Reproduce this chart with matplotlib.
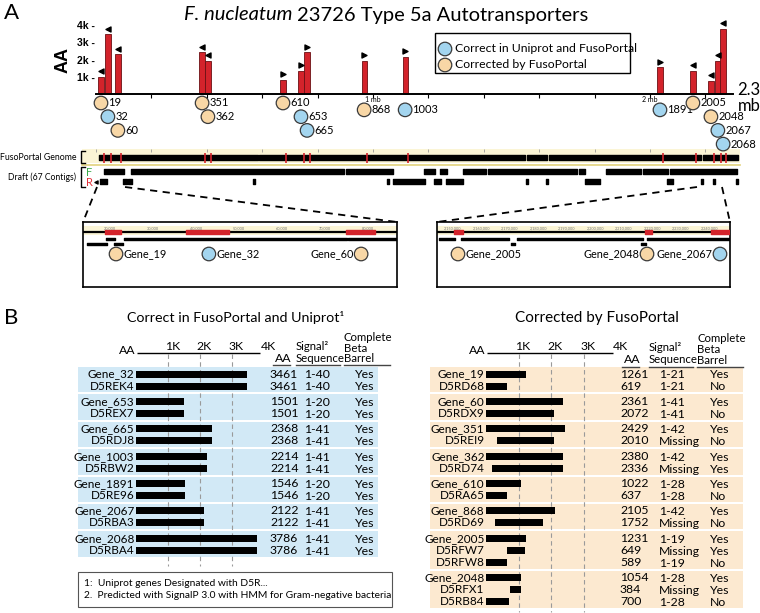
import matplotlib
matplotlib.use('Agg')
import matplotlib.pyplot as plt
from matplotlib.patches import Rectangle
import numpy as np

# ---------------- data ----------------
gene_ids = [19, 32, 60, 351, 362, 610, 653, 665, 868, 1003, 1891, 2005, 2048, 2067, 2068]
gene_pos_mb = [0.018, 0.043, 0.079, 0.383, 0.404, 0.675, 0.740, 0.762, 0.968, 1.116,
               2.036, 2.155, 2.220, 2.245, 2.264]
gene_bar_aa = [1000, 3460, 2310, 2430, 1920, 830, 1370, 2430, 1920, 2170, 1560, 1370, 770, 1940, 3780]
gene_strand = ['-', '-', '-', '-', '-', '+', '+', '+', '+', '+', '+', '-', '-', '-', '-']
gene_status = ['fixed', 'ok', 'fixed', 'fixed', 'fixed', 'fixed', 'ok', 'ok', 'fixed', 'ok',
               'ok', 'fixed', 'fixed', 'ok', 'ok']
gene_label_row = [0, 1, 2, 0, 1, 0, 1, 2, 0.5, 0.5, 0.5, 0, 1, 2, 3]

genome_segments = [(0.011, 0.584), (0.590, 1.549), (1.556, 1.628), (1.635, 2.184), (2.191, 2.318)]
draft_F = [(0.029, 0.101), (0.126, 0.895), (0.903, 1.072), (1.184, 1.224), (1.242, 1.267),
           (1.325, 1.408), (1.415, 1.736), (1.744, 1.765), (1.841, 1.968), (1.975, 2.065),
           (2.072, 2.314)]
draft_R = [(0.014, 0.040), (0.097, 0.112), (0.116, 0.130), (0.567, 0.573), (1.051, 1.057),
           (1.072, 1.188), (1.220, 1.245), (1.264, 1.325), (1.552, 1.558), (1.625, 1.631),
           (1.765, 1.819), (2.061, 2.083), (2.184, 2.190), (2.227, 2.233), (2.311, 2.317)]

# insets (kb)
insetL_ticks = [20, 30, 40, 50, 60, 70, 80]
insetL_genes_red = [(18.84, 22.56), (37.67, 47.67), (74.88, 81.63)]
insetL_contig1 = [(19.07, 21.16), (23.26, 75.12), (75.35, 86.74)]
insetL_contig2 = [(14.65, 19.30), (20.93, 23.02)]
insetL_circles = [('Gene_19', 21.4, 'fixed', 'right'), ('Gene_32', 43.0, 'ok', 'right'),
                  ('Gene_60', 78.4, 'fixed', 'left')]
insetR_ticks = [2150, 2160, 2170, 2180, 2190, 2200, 2210, 2220, 2230, 2240]
insetR_genes_red = [(2150.35, 2153.51), (2217.37, 2219.82), (2240.53, 2247.5)]
insetR_contig1 = [(2145.09, 2150.70), (2152.81, 2169.65), (2172.46, 2216.67), (2218.07, 2247.19)]
insetR_contig2 = [(2170.35, 2171.75), (2215.96, 2217.72)]
insetR_circles = [('Gene_2005', 2151.75, 'fixed', 'right'), ('Gene_2048', 2218.07, 'fixed', 'left'),
                  ('Gene_2067', 2243.68, 'ok', 'left')]

left_names = ["Gene_32", "D5REK4", "Gene_653", "D5REX7", "Gene_665", "D5RDJ8", "Gene_1003", "D5RBW2",
              "Gene_1891", "D5RE96", "Gene_2067", "D5RBA3", "Gene_2068", "D5RBA4"]
left_aa = [3461, 3461, 1501, 1501, 2368, 2368, 2214, 2214, 1546, 1546, 2122, 2122, 3786, 3786]
left_signal = ["1-40", "1-40", "1-20", "1-20", "1-41", "1-41", "1-41", "1-41", "1-20", "1-20",
               "1-41", "1-41", "1-41", "1-41"]
left_barrel = ["Yes"] * 14
left_groups = [2, 2, 2, 2, 2, 2, 2]
left_bar_start = [0] * 14
left_bar_end = left_aa

right_names = ["Gene_19", "D5RD68", "Gene_60", "D5RDX9", "Gene_351", "D5REI9", "Gene_362", "D5RD74",
               "Gene_610", "D5RA65", "Gene_868", "D5RD69", "Gene_2005", "D5RFW7", "D5RFW8",
               "Gene_2048", "D5RFX1", "D5RB84"]
right_aa = [1261, 619, 2361, 2072, 2429, 2010, 2380, 2336, 1022, 637, 2105, 1752, 1231, 649, 589,
            1054, 384, 700]
right_signal = ["1-21", "1-21", "1-41", "1-41", "1-42", "Missing", "1-42", "Missing", "1-28", "1-28",
                "1-42", "Missing", "1-19", "Missing", "1-19", "1-28", "Missing", "1-28"]
right_barrel = ["Yes", "No", "Yes", "No", "Yes", "No", "Yes", "Yes", "Yes", "No", "Yes", "No",
                "Yes", "Yes", "No", "Yes", "Yes", "No"]
right_groups = [2, 2, 2, 2, 2, 2, 3, 3]
right_bar_start = [0, 0, 0, 0, 0, 330, 0, 190, 0, 0, 0, 280, 0, 640, 0, 0, 740, 0]
right_bar_end = [1240, 640, 2360, 2090, 2430, 2090, 2360, 2360, 1070, 640, 2120, 1750, 1220, 1200,
                 640, 1070, 1070, 720]

axis_ticks = [1000, 2000, 3000, 4000]
axis_labels = ['1K', '2K', '3K', '4K']

# ---------------- style ----------------
W, H = 760, 613
FONT = 'Lato'
plt.rcParams['font.family'] = [FONT, 'DejaVu Sans']
BLUE = '#A3D5EF'
PEACH = '#F8D7A6'
RED = '#D3232B'
BLUEBG = '#D2E9F6'
PEACHBG = '#FCE9D0'
EDGE = '#3a3a3a'
STATUS_COL = {'ok': BLUE, 'fixed': PEACH}

fig = plt.figure(figsize=(W / 100, H / 100), dpi=100)


def fax(x0, y0, x1, y1, z=1):
    a = fig.add_axes([x0 / W, 1 - y1 / H, (x1 - x0) / W, (y1 - y0) / H])
    a.set_zorder(z)
    a.patch.set_visible(False)
    return a


ax0 = fax(0, 0, W, H, 0)
ax0.set_xlim(0, W)
ax0.set_ylim(H, 0)
ax0.axis('off')


def T(x, y, s, **kw):
    kw.setdefault('fontsize', 8.5)
    kw.setdefault('va', 'center')
    return ax0.text(x, y, s, **kw)


# ---------------- Panel A ----------------
T(4, 13, 'A', fontsize=16)
T(292, 15, 'F. nucleatum', fontsize=14.5, style='italic', ha='right')
T(297, 15, '23726 Type 5a Autotransporters', fontsize=14.5, ha='left')

X0PX, PXMB = 96, 277.0
BASE, PXK = 94.3, 17.3
axA = fax(X0PX, 20, X0PX + 2.3 * PXMB, 150, 2)
axA.set_xlim(0, 2.3)
axA.set_ylim((BASE - 150) / PXK * 1000, (BASE - 20) / PXK * 1000)
for s in ['top', 'right', 'left']:
    axA.spines[s].set_visible(False)
axA.spines['bottom'].set_position(('data', 0))
axA.spines['bottom'].set_linewidth(1.4)
axA.set_xticks(np.arange(0.2, 2.25, 0.2))
axA.tick_params(axis='x', length=3, width=0.8, labelbottom=False, direction='out')
axA.set_yticks([1000, 2000, 3000, 4000])
axA.set_yticklabels(['1k -', '2k -', '3k -', '4k -'], fontweight='bold', fontsize=7.5,
                    family='Liberation Sans')
axA.tick_params(axis='y', length=0, pad=1)

axA.bar(gene_pos_mb, gene_bar_aa, width=0.019, color=RED, edgecolor='#6b1014', linewidth=0.6, zorder=2)
for p, v, s in zip(gene_pos_mb, gene_bar_aa, gene_strand):
    axA.scatter([p], [v + 330], marker='<' if s == '-' else '>', s=13, color='black', zorder=3)
cy = [(BASE - (103 + 13.7 * r)) / PXK * 1000 for r in gene_label_row]
axA.scatter(gene_pos_mb, cy, s=95, c=[STATUS_COL[s] for s in gene_status], edgecolors=EDGE,
            linewidths=0.9, zorder=4, clip_on=False)
for p, y, g in zip(gene_pos_mb, cy, gene_ids):
    axA.text(p + 0.026, y, str(g), fontsize=8, va='center', ha='left')
for m in [1, 2]:
    axA.text(m, (BASE - 99) / PXK * 1000, f'{m} mb', fontsize=5, ha='center', va='center')
T(63, 60, 'AA', fontsize=13, fontweight='bold', rotation=90, ha='center', family='Liberation Sans')
T(749, 98, '2.3\nmb', fontsize=12, ha='center', linespacing=0.95)

# legend
ax0.add_patch(Rectangle((435, 33), 195, 40, fc='white', ec='black', lw=1.0, zorder=3))
ax0.scatter([445, 445], [49, 65], s=95, c=[BLUE, PEACH], edgecolors=EDGE, linewidths=0.9, zorder=4)
T(455, 49, 'Correct in Uniprot and FusoPortal', fontsize=8.8, zorder=4)
T(455, 65, 'Corrected by FusoPortal', fontsize=8.8, zorder=4)

# genome track
ax0.add_patch(Rectangle((82, 149), 658, 14, fc='#FBF5D6', ec='none'))
ax0.plot([82, 740], [164.5, 164.5], color='#E2D27C', lw=1.2)
axG = fax(80, 145, 745, 192, 2)
axG.set_xlim((80 - X0PX) / PXMB, (745 - X0PX) / PXMB)
axG.set_ylim(192, 145)
axG.axis('off')
axG.broken_barh([(a, b - a) for a, b in genome_segments], (155.5, 5), color='black')
axG.broken_barh([(a, b - a) for a, b in draft_F], (169.5, 5), color='black')
axG.broken_barh([(a, b - a) for a, b in draft_R], (179.5, 5), color='black')
axG.vlines(np.array(gene_pos_mb) + 0.011, 153, 163, color=RED, lw=1.2, zorder=3)
axG.vlines(np.arange(0, 2.31, 0.2), 149.5, 152, color='#999999', lw=0.6)
axG.scatter([0.0], [182], marker='<', s=5, color='black')

T(77, 157, 'FusoPortal Genome', fontsize=6.3, ha='right')
ax0.plot([84.5, 81, 81, 84.5], [151, 151, 163, 163], color='black', lw=1)
T(76, 177, 'Draft (67 Contigs)', fontsize=6.2, ha='right')
ax0.plot([84.5, 81, 81, 84.5], [167, 167, 187, 187], color='black', lw=1)
T(89, 172, 'F', fontsize=8, color='#3AAA4A', ha='center')
T(89, 183, 'R', fontsize=8, color='#E0303A', ha='center')

# zoom dashed lines
for (xa, ya), (xb, yb) in [((97, 187), (83, 222)), ((125, 187), (397, 222)),
                           ((697, 187), (437, 222)), ((722, 187), (730, 222))]:
    ax0.plot([xa, xb], [ya, yb], color='black', lw=1.3, ls=(0, (4, 3)))


def inset(px0, px1, kb_ref, ref_px, px_per_kb, ticks, tick_fmt, red, c1, c2, circles):
    ax = fax(px0, 222, px1, 287, 3)
    ax.patch.set_visible(True)
    ax.patch.set_facecolor('white')
    ax.set_xlim(kb_ref + (px0 - ref_px) / px_per_kb, kb_ref + (px1 - ref_px) / px_per_kb)
    ax.set_ylim(287, 222)
    ax.set_xticks([])
    ax.set_yticks([])
    for s in ax.spines.values():
        s.set_linewidth(1.2)
    xl = ax.get_xlim()
    ax.add_patch(Rectangle((xl[0], 225.5), xl[1] - xl[0], 9.5, fc='#FBF5D6', ec='none'))
    ax.hlines(232, xl[0], xl[1], color='black', lw=1.6)
    ax.broken_barh([(a, b - a) for a, b in red], (230, 4.2), color=RED, zorder=3)
    for t in ticks:
        ax.text(t, 228, tick_fmt(t), fontsize=2.8, color='#777777', ha='center', va='center')
    ax.broken_barh([(a, b - a) for a, b in c1], (238, 2.2), color='black')
    ax.broken_barh([(a, b - a) for a, b in c2], (243, 2.2), color='black')
    xs = [c[1] for c in circles]
    ax.scatter(xs, [254] * len(xs), s=95, c=[STATUS_COL[c[2]] for c in circles], edgecolors=EDGE,
               linewidths=0.9, zorder=4)
    off = 7.5 / px_per_kb
    for name, x, st, side in circles:
        if side == 'right':
            ax.text(x + off, 254, name, fontsize=7.8, ha='left', va='center')
        else:
            ax.text(x - off, 254, name, fontsize=7.8, ha='right', va='center')
    return ax


inset(83, 397, 20, 110, 4.3, insetL_ticks, lambda t: f'{t},000', insetL_genes_red,
      insetL_contig1, insetL_contig2, insetL_circles)
inset(437, 730, 2150, 453, 2.85, insetR_ticks, lambda t: f'{t // 1000},{t % 1000:03d},000',
      insetR_genes_red, insetR_contig1, insetR_contig2, insetR_circles)

ap = dict(arrowstyle='-|>', lw=1.3, color='black', mutation_scale=13, shrinkA=0, shrinkB=0)
T(240, 277, 'Contig Break', fontsize=8.8, ha='center', zorder=5)
ax0.annotate('', xy=(127, 263), xytext=(204, 274), arrowprops=ap, zorder=5)
ax0.annotate('', xy=(342, 263), xytext=(276, 275), arrowprops=ap, zorder=5)
T(557, 278, 'Contig Break', fontsize=8.8, ha='center', zorder=5)
ax0.annotate('', xy=(472, 263), xytext=(523, 275), arrowprops=ap, zorder=5)
ax0.annotate('', xy=(642, 263), xytext=(589, 274), arrowprops=ap, zorder=5)

# ---------------- Panel B ----------------
T(4, 318, 'B', fontsize=16)
T(236, 318, 'Correct in FusoPortal and Uniprot\u00b9', fontsize=10.3, ha='center')
T(597, 318, 'Corrected by FusoPortal', fontsize=11, ha='center')


def table(zero_px, px_per_aa, bg_x0, bg_x1, bg, names, groups, aa, sig, bar, bstart, bend,
          num_x, sig_x, sig_ha, bar_x, bar_ha, hdr_aa_x, hdr_sig_x, hdr_bar_x, hdr_dy, dash_end,
          axis_end_px):
    ax = fax(bg_x0, 330, bg_x1, 613, 2)
    ax.set_xlim((bg_x0 - zero_px) / px_per_aa, (bg_x1 - zero_px) / px_per_aa)
    ax.set_ylim(613, 330)
    ax.axis('off')
    ys = []
    t = 367.0
    for n in groups:
        h = 12 * n + 3.4
        ax0.add_patch(Rectangle((bg_x0, t), bg_x1 - bg_x0, h - 2, fc=bg, ec='none', zorder=0))
        ys += [t + 7 + 12 * i for i in range(n)]
        t += h
    ax.vlines([1000, 2000, 3000], 354, dash_end, color='#9a9a9a', lw=0.8, ls=(0, (4, 3)))
    ax.barh(ys, np.array(bend) - np.array(bstart), left=bstart, height=7, color='black', zorder=3)
    ax.hlines(353, 30, (axis_end_px - zero_px) / px_per_aa, color='black', lw=1.0)
    for tk, lb in zip(axis_ticks, axis_labels):
        ax.text(tk - 100, 352.5, lb, fontsize=8.8, ha='left', va='bottom')
    T(zero_px - 1, 351, 'AA', fontsize=8.8, ha='right')
    for y, nm, a, s, b in zip(ys, names, aa, sig, bar):
        T(zero_px - 1.5, y, nm, fontsize=8.5, ha='right')
        T(num_x, y, str(a), fontsize=8.8, ha='left')
        T(sig_x, y + 1, s, fontsize=8.8, ha=sig_ha)
        T(bar_x, y + 1, b, fontsize=8.8, ha=bar_ha)
    d = hdr_dy
    hs = 8.2
    T(hdr_aa_x, 358 + d, 'AA', fontsize=8.8, ha='left')
    T(hdr_sig_x, 346 + d, 'Signal\u00b2', fontsize=hs, ha='left')
    T(hdr_sig_x, 358 + d, 'Sequence', fontsize=hs, ha='left')
    T(hdr_bar_x, 337.5 + d, 'Complete', fontsize=hs, ha='left')
    T(hdr_bar_x, 348 + d, 'Beta', fontsize=hs, ha='left')
    T(hdr_bar_x, 358.5 + d, 'Barrel', fontsize=hs, ha='left')
    for xa, xb in [(hdr_aa_x - 2, hdr_aa_x + 15), (hdr_sig_x, hdr_sig_x + 44), (hdr_bar_x, hdr_bar_x + 46)]:
        ax0.plot([xa, xb], [365 + d, 365 + d], color='#444444', lw=1.0)


table(136, 0.032, 78, 378, BLUEBG, left_names, left_groups, left_aa, left_signal, left_barrel,
      left_bar_start, left_bar_end, 270, 317, 'center', 365, 'center', 275, 296, 344, 0, 566, 260)
table(486, 0.0325, 430, 743, PEACHBG, right_names, right_groups, right_aa, right_signal, right_barrel,
      right_bar_start, right_bar_end, 620, 659, 'left', 710, 'left', 624, 649, 697, 1.5, 612, 613)

ax0.add_patch(Rectangle((78, 572), 314, 35, fc='white', ec='#555555', lw=0.8, zorder=1))
T(84, 583, '1:  Uniprot genes Designated with D5R...', fontsize=7.35, ha='left', zorder=2)
T(84, 595, '2.  Predicted with SignalP 3.0 with HMM for Gram-negative bacteria', fontsize=7.35,
  ha='left', zorder=2)

fig.savefig('out.png', dpi=100)
